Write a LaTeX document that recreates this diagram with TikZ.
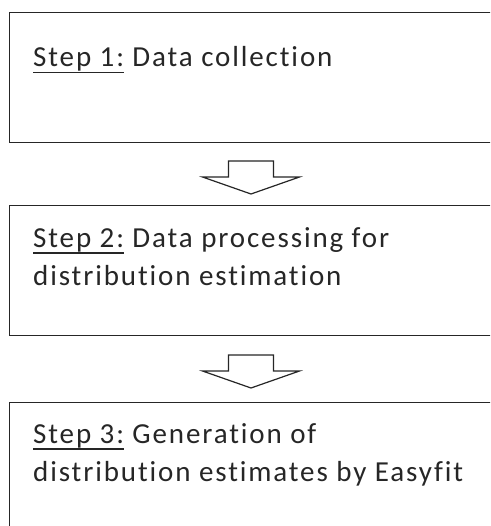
\documentclass[tikz,border=0pt]{standalone}
\usepackage{fontspec}
\setmainfont{Carlito}[LetterSpace=6.5, Ligatures={NoCommon}]
% underlined step label with a rule set a little below the baseline
\newcommand\steplabel[1]{\setbox0\hbox{#1}\rlap{\rule[-6.5pt]{\wd0}{1.8pt}}\box0\relax}
\begin{document}
\begin{tikzpicture}[x=1pt,y=-1pt,
  stepbox/.style={draw=black!85, line width=1.4pt, rectangle, inner sep=0pt,
    anchor=north west, minimum width=500pt, minimum height=130pt},
  steptext/.style={anchor=base west, inner sep=0pt, align=left,
    font=\fontsize{29}{38}\selectfont, text=black!85},
  blockarrow/.style={draw=black!85, line width=1.2pt, fill=white, line join=miter}]
\useasboundingbox (0,0) rectangle (490,526);
\clip (0,0) rectangle (490,526);

% the three process steps
\node[stepbox] (box1) at (9,12) {};
\node[stepbox] (box2) at (9,205) {};
\node[stepbox] (box3) at (9,402) {};

% base anchor of a two-line node sits on its last line
\node[steptext] (t1) at (33,67) {\steplabel{Step 1:} Data collection};
\node[steptext] (t2) at (33,285) {\steplabel{Step 2:} Data processing for\\distribution estimation};
\node[steptext] (t3) at (33,481) {\steplabel{Step 3:} Generation of\\distribution estimates by Easyfit};

% hollow block arrows between the steps
\coordinate (a1) at (251,161);
\coordinate (a2) at (251,355);
\foreach \a in {a1,a2}
  \draw[blockarrow] (\a) ++(-22.5,0) -- ++(45,0) -- ++(0,16) -- ++(26,0)
    -- ++(-48.5,17) -- ++(-48.5,-17) -- ++(26,0) -- cycle;
\end{tikzpicture}
\end{document}
